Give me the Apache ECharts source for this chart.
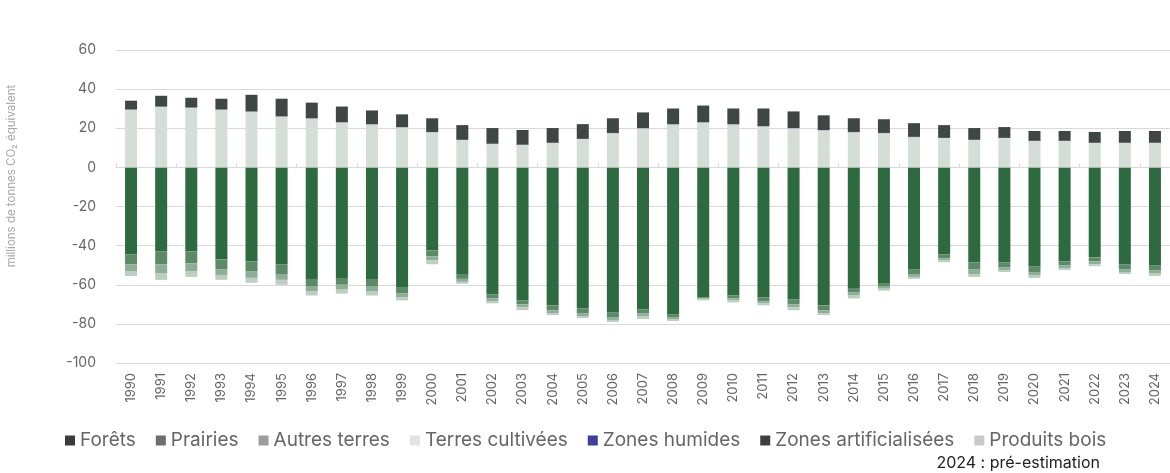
<!DOCTYPE html>
<html>
<head>
<meta charset="utf-8">
<script src="https://cdn.jsdelivr.net/npm/echarts@6/dist/echarts.min.js"></script>
<style>
  html, body { margin: 0; padding: 0; background: #fff; }
  #chart { width: 1170px; height: 473px; }
</style>
</head>
<body>
<div id="chart"></div>
<script>
// années
var years = ['1990','1991','1992','1993','1994','1995','1996','1997','1998','1999',
  '2000','2001','2002','2003','2004','2005','2006','2007','2008','2009',
  '2010','2011','2012','2013','2014','2015','2016','2017','2018','2019',
  '2020','2021','2022','2023','2024'];

// millions de tonnes CO2 eq
var forets = [-44.5,-43,-43,-47,-48,-49.5,-57,-56.5,-57.5,-61.5,
  -42.5,-54.5,-65,-68,-70.5,-72,-74,-72.5,-75,-66.5,
  -65.5,-66.5,-67.5,-70.5,-62,-59.5,-52,-44.5,-48.5,-48.5,
  -50.5,-48,-46,-49.5,-50];
var prairies = [-5,-6.5,-6,-5,-5,-5,-4,-3.5,-3.5,-3,
  -3,-2.5,-2,-2,-2.5,-2.5,-2.5,-2,-1.5,-0.5,
  -1.5,-2,-2.5,-2.5,-2,-1.5,-2.5,-2,-3.5,-2.5,
  -3,-2,-2,-2.5,-2.5];
var autresTerres = [-3.5,-4.5,-4,-3,-3.5,-3,-2.5,-2.5,-2.5,-2,
  -2,-1.5,-1.5,-1.5,-1.5,-1.5,-1.5,-1.5,-1,-0.5,
  -1,-1,-1.5,-1.5,-1.5,-1,-1.5,-1,-2.5,-1.5,
  -1.5,-1.5,-1.5,-1.5,-1.5];
var terresCultivees = [29.5,31,30.5,29.5,28.5,26,25,23,22,20.5,
  18,14,12,11.5,12.5,14.5,17.5,20,22,23,
  22,21,20,19,18,17.5,15.5,15,14,15,
  13.5,13.5,12.5,12.5,12.5];
var zonesHumides = [0.1,0.1,0.1,0.1,0.1,0.1,0.1,0.1,0.1,0.1,
  0.1,0.1,0.1,0.1,0.1,0.1,0.1,0.1,0.1,0.1,
  0.1,0.1,0.1,0.1,0.1,0.1,0.1,0.1,0.1,0.1,
  0.1,0.1,0.1,0.1,0.1];
var zonesArtif = [4.5,5.5,5,5.5,8.5,9,8,8,7,6.5,
  7,7.5,8,7.5,7.5,7.5,7.5,8,8,8.5,
  8,9,8.5,7.5,7,7,7,6.5,6,5.5,
  5,5,5.5,6,6];
var produitsBois = [-2.5,-3.5,-3,-2.5,-2.5,-2.5,-2,-2,-2,-1.5,
  -2,-1,-1,-1.5,-1,-1,-1,-1.5,-1,-0.5,
  -1,-1,-1.5,-1,-1.5,-1,-1,-1,-1.5,-1,
  -1.5,-1,-1,-1,-1.5];

var yTicks = { min: -100, max: 60, interval: 20 };

var font = 'Inter, Roboto, "Liberation Sans", sans-serif';

var chart = echarts.init(document.getElementById('chart'));

function serie(name, data, color) {
  return {
    name: name,
    type: 'bar',
    stack: 'total',
    barWidth: 12,
    xAxisIndex: 0,
    data: data,
    itemStyle: { color: color },
    emphasis: { disabled: true }
  };
}

chart.setOption({
  animation: false,
  backgroundColor: '#fff',
  grid: { left: 116, right: -6, top: 50, bottom: 110 },
  legend: {
    left: 60,
    top: 426,
    icon: 'rect',
    itemWidth: 10,
    itemHeight: 10,
    itemGap: 20,
    textStyle: { fontFamily: font, fontSize: 19, color: '#666' },
    data: [
      { name: 'Forêts', itemStyle: { color: '#3b3b3b' } },
      { name: 'Prairies', itemStyle: { color: '#6e6e6e' } },
      { name: 'Autres terres', itemStyle: { color: '#9c9c9c' } },
      { name: 'Terres cultivées', itemStyle: { color: '#e3e3e3' } },
      { name: 'Zones humides', itemStyle: { color: '#3f3f9a' } },
      { name: 'Zones artificialisées', itemStyle: { color: '#3f3f3f' } },
      { name: 'Produits bois', itemStyle: { color: '#c9c9c9' } }
    ]
  },
  graphic: [
    {
      type: 'text',
      x: 12, y: 176,
      rotation: Math.PI / 2,
      style: {
        text: 'millions de tonnes CO₂ équivalent',
        font: '11.5px ' + font,
        fill: '#a8a8a8',
        align: 'center',
        verticalAlign: 'middle'
      }
    },
    {
      type: 'text',
      right: 70, top: 455,
      style: {
        text: '2024 : pré-estimation',
        font: '16px ' + font,
        fill: '#222'
      }
    }
  ],
  xAxis: [
    {
      type: 'category',
      data: years,
      position: 'bottom',
      axisLine: { show: false, onZero: false },
      axisTick: { show: false },
      axisLabel: { rotate: 90, fontFamily: font, fontSize: 13, color: '#666', margin: 10 },
      splitLine: { show: false }
    },
    {
      type: 'category',
      data: years,
      axisLine: { show: true, onZero: true, lineStyle: { color: '#d9d9d9', width: 1 } },
      axisTick: { show: true, length: 4, lineStyle: { color: '#d9d9d9' } },
      axisLabel: { show: false },
      splitLine: { show: false }
    }
  ],
  yAxis: {
    type: 'value',
    min: yTicks.min,
    max: yTicks.max,
    interval: yTicks.interval,
    axisLine: { show: false },
    axisTick: { show: false },
    axisLabel: { fontFamily: font, fontSize: 14, color: '#666', margin: 20 },
    splitLine: { lineStyle: { color: '#d9d9d9', width: 1 } }
  },
  series: [
    serie('Forêts', forets, '#2d6a3f'),
    serie('Prairies', prairies, '#5c8a69'),
    serie('Autres terres', autresTerres, '#8fae98'),
    serie('Terres cultivées', terresCultivees, '#d4ded7'),
    serie('Zones humides', zonesHumides, '#3f3f9a'),
    serie('Zones artificialisées', zonesArtif, '#404545'),
    serie('Produits bois', produitsBois, '#bccdc1')
  ]
});
</script>
</body>
</html>
